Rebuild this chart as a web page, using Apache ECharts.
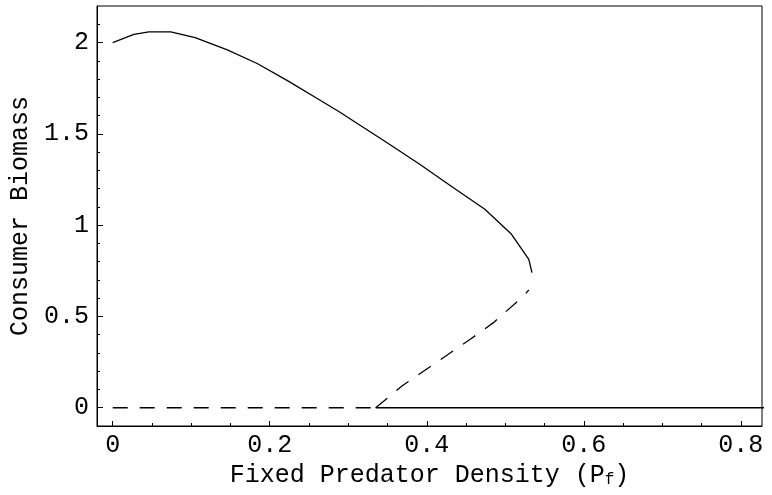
<!DOCTYPE html>
<html>
<head>
<meta charset="utf-8">
<script src="https://cdn.jsdelivr.net/npm/echarts@6/dist/echarts.min.js"></script>
<style>
  html, body { margin: 0; padding: 0; background: #fff; }
  #chart { width: 772px; height: 495px; }
</style>
</head>
<body>
<div id="chart"></div>
<script>
// upper (stable) branch
const upperX = [0, 0.027, 0.046, 0.074, 0.105, 0.146, 0.184, 0.222, 0.26, 0.29, 0.315, 0.35, 0.391, 0.434, 0.474, 0.508, 0.53, 0.534]
const upperY = [2.0, 2.045, 2.058, 2.058, 2.027, 1.96, 1.885, 1.793, 1.695, 1.617, 1.547, 1.45, 1.333, 1.205, 1.087, 0.95, 0.813, 0.74]
// middle (unstable) branch
const middleX = [0.335, 0.368, 0.413, 0.455, 0.485, 0.523, 0.53]
const middleY = [0, 0.118, 0.25, 0.374, 0.466, 0.611, 0.645]
// zero branch: unstable then stable
const zeroDashX = [0, 0.335]
const zeroSolidX = [0.335, 0.83]

const xLabels = [0, 0.2, 0.4, 0.6, 0.8]
const xTicks = [0, 0.05, 0.1, 0.15, 0.2, 0.25, 0.3, 0.35, 0.4, 0.45, 0.5, 0.55, 0.6, 0.65, 0.7, 0.75, 0.8]
const yLabels = [0, 0.5, 1, 1.5, 2]
const yTicks = [-0.1, 0, 0.1, 0.2, 0.3, 0.4, 0.5, 0.6, 0.7, 0.8, 0.9, 1, 1.1, 1.2, 1.3, 1.4, 1.5, 1.6, 1.7, 1.8, 1.9, 2, 2.1]

const pairs = (xs, ys) => xs.map((x, i) => [x, ys[i]])
const font = 'Liberation Mono'
const fs = 25

const chart = echarts.init(document.getElementById('chart'))

chart.setOption({
  backgroundColor: '#fff',
  animation: false,
  grid: { left: 96, right: 10, top: 6, bottom: 69, show: true, borderColor: '#000', borderWidth: 1 },
  xAxis: [
    {
      type: 'value', min: -0.02, max: 0.827,
      name: 'Fixed Predator Density (P{s|f})',
      nameLocation: 'middle', nameGap: 32,
      nameTextStyle: { fontFamily: font, fontSize: fs, color: '#000', rich: { s: { fontFamily: font, fontSize: 16, color: '#000', verticalAlign: 'bottom', padding: [8, 0, 0, 0] } } },
      axisLine: { onZero: false, lineStyle: { color: '#000', width: 1 } },
      axisTick: { inside: true, length: 3, customValues: xTicks, lineStyle: { color: '#000' } },
      axisLabel: { customValues: xLabels, margin: 7, fontFamily: font, fontSize: fs, color: '#000' },
      splitLine: { show: false }
    },
    // longer ticks at the labelled values
    {
      type: 'value', min: -0.02, max: 0.827, position: 'bottom',
      axisLine: { show: false, onZero: false },
      axisTick: { inside: true, length: 5, customValues: xLabels, lineStyle: { color: '#000' } },
      axisLabel: { show: false }, splitLine: { show: false }
    }
  ],
  yAxis: [
    {
      type: 'value', min: -0.1, max: 2.2,
      name: 'Consumer Biomass',
      nameLocation: 'middle', nameGap: 64, nameRotate: 90,
      nameTextStyle: { fontFamily: font, fontSize: fs, color: '#000' },
      axisLine: { onZero: false, lineStyle: { color: '#000', width: 1 } },
      axisTick: { inside: true, length: 3, customValues: yTicks, lineStyle: { color: '#000' } },
      axisLabel: { customValues: yLabels, margin: 8, fontFamily: font, fontSize: fs, color: '#000' },
      splitLine: { show: false }
    },
    {
      type: 'value', min: -0.1, max: 2.2, position: 'left',
      axisLine: { show: false, onZero: false },
      axisTick: { inside: true, length: 6, customValues: yLabels, lineStyle: { color: '#000' } },
      axisLabel: { show: false }, splitLine: { show: false }
    }
  ],
  series: [
    { type: 'line', symbol: 'none', data: pairs(upperX, upperY), lineStyle: { color: '#000', width: 1.3 } },
    { type: 'line', symbol: 'none', data: pairs(middleX, middleY), lineStyle: { color: '#000', width: 1.3, type: [15, 12] } },
    { type: 'line', symbol: 'none', data: pairs(zeroDashX, [0, 0]), lineStyle: { color: '#000', width: 1.3, type: [15, 12] } },
    { type: 'line', symbol: 'none', data: pairs(zeroSolidX, [0, 0]), lineStyle: { color: '#000', width: 1.3 } }
  ]
})
</script>
</body>
</html>
